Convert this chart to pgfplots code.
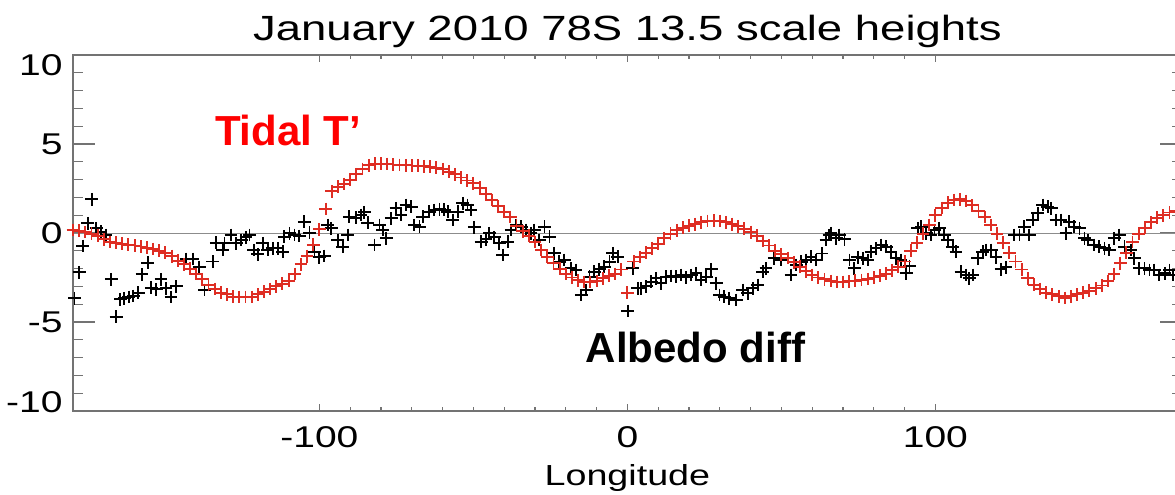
\documentclass[border=0pt]{standalone}
\usepackage{pgfplots}
\pgfplotsset{compat=1.18}
\usepackage{fontspec}
\setmainfont{Liberation Sans}[FakeStretch=1.3]
\newfontfamily\annfont{Liberation Sans}
\definecolor{tred}{RGB}{222,45,35}
\begin{document}
\begin{tikzpicture}
\begin{axis}[
  at={(0,0)}, anchor=south west,
  scale only axis, width=554.4pt, height=178pt,
  xmin=-180, xmax=180, ymin=-10, ymax=10,
  xtick={-100,0,100}, xticklabels={-100,0,100},
  minor x tick num=9,
  ytick={-10,-5,0,5,10},
  yticklabels={\raisebox{4.5pt}[\height][\depth]{-10},-5,0,5,\raisebox{-5pt}[\height][0pt]{10}},
  minor y tick num=4,
  tick pos=both,
  axis line style={black!55, line width=0.6pt},
  every tick/.style={black!55, line width=0.6pt},
  xtick style={/pgfplots/major tick length=3.5pt, /pgfplots/minor tick length=1.8pt},
  ytick style={/pgfplots/major tick length=11pt, /pgfplots/minor tick length=5pt},
  tick label style={font=\fontsize{15}{17}\selectfont},
  xticklabel style={anchor=base, inner sep=0pt, yshift=-18pt},
  yticklabel style={anchor=east, inner sep=0pt, xshift=-5pt},
  xlabel={Longitude},
  xlabel style={at={(axis description cs:0.5,0)}, anchor=base, yshift=-37pt, font=\fontsize{14.5}{16}\selectfont},
  title={January 2010 78S 13.5 scale heights},
  title style={at={(axis description cs:0.5,1)}, anchor=base, yshift=1.5pt, font=\fontsize{17.5}{20}\selectfont},
  clip=true,
]
\addplot[black!45, line width=0.5pt, forget plot] coordinates {(-180,0) (180,0)};
\addplot[only marks, mark=+, mark size=3.2pt, black, mark options={line width=0.95pt}] table {
x y
-179.5 -3.67
-178 -2.2
-176.8 -0.73
-175.2 0.54
-173.9 1.9
-172.5 0.26
-170.9 0.07
-169.3 -0.11
-167.6 -2.6
-166 -4.7
-164.6 -3.72
-163.3 -3.67
-161.9 -3.6
-160.4 -3.54
-158.8 -3.35
-157.6 -2.32
-155.7 -1.67
-154.6 -3.07
-153 -3.16
-151.4 -2.6
-149.8 -3.1
-148.2 -3.6
-146.5 -3.0
-143.3 -1.46
-141.1 -1.46
-139 -1.93
-137.3 -3.2
-134.6 -1.6
-133.5 -0.54
-131.4 -0.96
-130.8 -0.58
-128.7 -0.11
-127 -0.58
-125.4 -0.39
-123.8 -0.24
-122.7 -0.11
-121.3 -0.96
-120 -1.2
-118.4 -0.58
-116.8 -0.96
-115.2 -0.86
-113.5 -0.86
-111.9 -1.05
-111.4 -0.2
-109.7 -0.02
-108.1 -0.11
-106.5 -0.17
-104.9 0.64
-103.2 0.02
-101.6 -1.05
-100 -1.37
-98.4 -1.29
-97.3 0.45
-96.2 0.26
-94.1 -0.39
-92.4 -0.77
-90.8 -0.11
-90.3 0.92
-88.1 0.86
-86.5 1.01
-85.4 1.16
-84.3 0.58
-82.1 -0.67
-80.5 0.45
-79.4 0.17
-78.3 -0.3
-76.7 0.82
-75.1 1.39
-73.5 1.01
-71.9 1.57
-70.2 1.48
-69.2 0.45
-67.5 0.35
-66.5 0.92
-64.3 1.2
-62.7 1.29
-61 1.33
-59.5 1.3
-58.3 1.2
-56.7 0.73
-55.1 1.2
-53.5 1.67
-51.9 1.57
-50.8 1.29
-49.7 0.32
-47.5 -0.49
-45.9 -0.35
-44.8 -0.02
-43.2 -0.24
-41.6 -0.58
-40.5 -1.24
-38.9 -0.49
-37.8 0.17
-36.1 0.45
-34.5 0.35
-32.9 0.17
-31.3 -0.02
-30.2 0.17
-28.6 -0.39
-26.9 0.35
-25.3 -0.2
-23.7 -1.14
-22.1 -1.61
-20.5 -1.52
-18.3 -1.99
-16.7 -2.08
-15 -3.48
-13.4 -3.2
-12.3 -2.45
-10.7 -2.17
-9.1 -2.04
-7.5 -1.89
-5.8 -1.61
-4.8 -1.14
-3.1 -1.33
0.1 -4.38
1.7 -1.99
3.4 -3.1
4.4 -3.1
6.1 -3.0
7.7 -2.73
9.3 -2.55
10.9 -2.83
12.6 -2.45
14.2 -2.42
15.8 -2.45
17.4 -2.36
19.1 -2.49
20.7 -2.36
22.3 -2.26
23.9 -2.64
25.6 -2.45
27.2 -2.04
28.8 -2.83
29.9 -3.48
31.5 -3.58
33.1 -3.67
35.3 -3.76
37.4 -3.2
39.1 -3.39
40.7 -3.1
42.3 -2.92
43.9 -2.17
45 -1.99
47.7 -1.42
49.9 -1.52
53.1 -2.36
54.8 -1.8
56.4 -1.61
58 -1.52
59.6 -1.33
61.3 -1.52
63.2 -1.15
64.5 -0.39
65.5 -0.11
66.1 -0.02
67.8 -0.3
68.8 -0.11
70.5 -0.35
72.1 -1.52
73.7 -1.99
74.8 -1.37
76.4 -1.42
78 -1.52
79.1 -1.05
80.7 -0.86
82.4 -0.67
84 -0.77
85.6 -1.05
87.2 -1.42
88.8 -1.52
90.5 -2.26
91.6 -1.85
94.3 0.26
95.4 0.35
97 -0.02
98.6 -0.11
99.7 0.17
101.3 0.26
102.9 -0.11
104 -0.39
105.6 -0.77
106.7 -1.05
108.3 -2.17
110 -2.36
111 -2.55
112.1 -2.36
113.7 -1.42
115.4 -1.05
116.5 -0.96
118.1 -0.96
119.7 -1.37
121.3 -2.04
122.9 -1.93
125.6 -0.11
127.3 -0.11
128.9 0.35
130.5 -0.11
131.6 0.73
133.2 1.1
134.8 1.57
136.5 1.48
137.6 1.39
139.2 0.73
140.8 0.73
142.4 -0.02
143.5 0.64
145.1 0.35
146.8 0.26
148.4 -0.3
149.5 -0.39
151.6 -0.67
153.2 -0.77
154.9 -0.86
156.5 -0.96
158.1 -0.3
159.7 -0.11
161.4 -0.77
163.5 -0.96
164.6 -1.42
166.2 -1.99
167.9 -1.99
169.5 -2.08
171.1 -2.08
172.7 -2.36
174.4 -2.26
176 -2.08
177.1 -2.36
};
\addplot[only marks, mark=+, mark size=3.2pt, tred, mark options={line width=0.95pt}] table {
x y
-180 0.17
-178 0.12
-176 0.06
-174 -0.05
-172 -0.15
-170 -0.35
-168 -0.5
-166 -0.55
-164 -0.6
-162 -0.65
-160 -0.7
-158 -0.76
-156 -0.82
-154 -0.9
-152 -1.0
-150 -1.1
-148 -1.3
-146 -1.55
-144 -1.75
-142 -2.0
-140 -2.3
-138 -2.6
-136 -2.9
-134 -3.15
-132 -3.35
-130 -3.45
-128 -3.58
-126 -3.6
-124 -3.6
-122 -3.6
-120 -3.45
-118 -3.3
-116 -3.15
-114 -3.0
-112 -2.85
-110 -2.7
-108 -2.3
-106 -1.75
-104 -1.3
-102 -0.65
-100 0.2
-98 1.35
-96 2.35
-94 2.6
-92 2.75
-90 3.0
-88 3.3
-86 3.6
-84 3.8
-82 3.9
-80 3.9
-78 3.88
-76 3.85
-74 3.82
-72 3.8
-70 3.79
-68 3.78
-66 3.75
-64 3.72
-62 3.67
-60 3.6
-58 3.45
-56 3.3
-54 3.12
-52 2.95
-50 2.8
-48 2.55
-46 2.2
-44 1.85
-42 1.5
-40 1.2
-38 0.9
-36 0.4
-34 0.1
-32 -0.15
-30 -0.5
-28 -0.95
-26 -1.35
-24 -1.7
-22 -2.0
-20 -2.3
-18 -2.5
-16 -2.65
-14 -2.75
-12 -2.75
-10 -2.7
-8 -2.55
-6 -2.4
-4 -2.3
-2 -2.05
0 -3.35
2 -1.6
4 -1.35
6 -1.1
8 -0.85
10 -0.6
12 -0.3
14 -0.05
16 0.15
18 0.3
20 0.4
22 0.5
24 0.6
26 0.67
28 0.7
30 0.67
32 0.6
34 0.5
36 0.38
38 0.25
40 0.05
42 -0.15
44 -0.45
46 -0.7
48 -1.0
50 -1.2
52 -1.4
54 -1.65
56 -1.9
58 -2.15
60 -2.36
62 -2.5
64 -2.6
66 -2.7
68 -2.75
70 -2.75
72 -2.72
74 -2.68
76 -2.64
78 -2.58
80 -2.5
82 -2.4
84 -2.28
86 -2.1
88 -1.9
90 -1.6
92 -1.0
94 -0.55
96 -0.05
98 0.45
100 1.0
102 1.4
104 1.7
106 1.85
108 1.9
110 1.8
112 1.55
114 1.25
116 0.9
118 0.45
120 -0.05
122 -0.55
124 -1.1
126 -1.6
128 -2.05
130 -2.55
132 -2.9
134 -3.15
136 -3.35
138 -3.45
140 -3.55
142 -3.65
144 -3.55
146 -3.45
148 -3.35
150 -3.25
152 -3.1
154 -2.95
156 -2.7
158 -2.3
160 -1.7
162 -1.1
164 -0.5
166 -0.05
168 0.3
170 0.6
172 0.85
174 1.0
176 1.15
178 1.25
180 1.3
};
\node[anchor=base west, inner sep=0pt, text=red, font=\annfont\bfseries\fontsize{21}{24}\selectfont] at (axis cs:-134,4.94) {Tidal T’};
\node[anchor=base west, inner sep=0pt, text=black, font=\annfont\bfseries\fontsize{21}{24}\selectfont] at (axis cs:-13.6,-7.3) {Albedo diff};
\end{axis}
\pgfresetboundingbox
\path[use as bounding box] (-36.5pt,-41.5pt) rectangle (551pt,205.5pt);
\end{tikzpicture}
\end{document}
